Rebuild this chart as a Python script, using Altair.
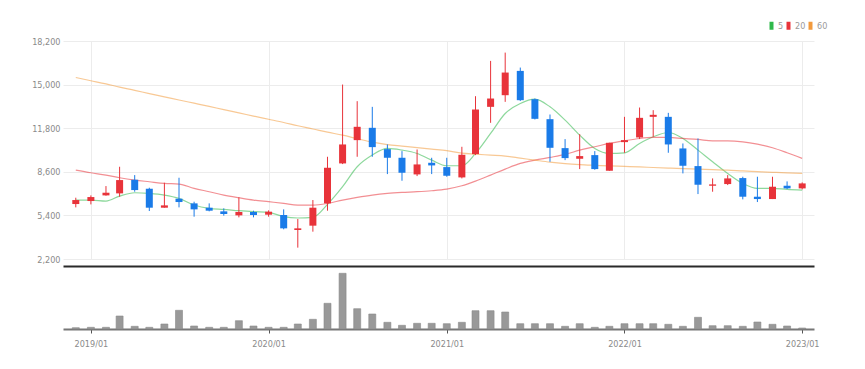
import altair as alt
import pandas as pd

# Monthly candles, 2018/12 .. 2023/01
months = pd.date_range("2018-12-01", "2023-01-01", freq="MS").strftime("%Y-%m-%d").tolist()

opens = [6234, 6454, 6869, 7016, 8017, 7357, 5965, 6625, 6283, 5965,
         5697, 5403, 5648, 5452, 5428, 4328, 4646, 6283, 9214, 10924,
         11828, 10265, 9630, 8408, 9263, 8945, 8188, 9899, 13367, 14222,
         16006, 13929, 12463, 10338, 9557, 9825, 8677, 10778, 11120, 12634,
         12634, 10314, 9019, 7577, 7700, 8139, 6771, 6600, 7577, 7382]
highs = [6698, 6869, 7553, 8970, 8359, 7431, 7797, 8164, 6405, 6283,
         5916, 6722, 5745, 5770, 5843, 5134, 6527, 9703, 15004, 13783,
         13367, 10607, 10118, 10240, 9630, 9630, 10436, 14149, 16739, 17349,
         16250, 13978, 12805, 10998, 11364, 10118, 10729, 12634, 13318, 13123,
         12927, 10680, 11046, 8115, 8359, 8237, 8237, 8237, 7895, 7822]
lows = [5989, 6209, 6845, 6771, 7138, 5721, 5965, 5989, 5306, 5697,
        5379, 5257, 5257, 5306, 4380, 3033, 4206, 5745, 9166, 9703,
        9703, 8432, 7944, 8286, 8432, 8237, 8115, 9825, 12195, 13734,
        13800, 12440, 9336, 9458, 8799, 8750, 8677, 9996, 11000, 11169,
        9996, 8481, 6966, 7138, 7626, 6576, 6381, 6600, 7333, 7309]
closes = [6527, 6747, 7064, 7993, 7260, 5965, 6136, 6381, 5843, 5745,
          5501, 5648, 5428, 5672, 4450, 4450, 5965, 8896, 10607, 11902,
          10411, 9630, 8530, 9141, 9068, 8310, 9850, 13172, 13978, 15884,
          13856, 12488, 10362, 9605, 9752, 8799, 10729, 10924, 12561, 12781,
          10607, 9043, 7651, 7675, 8115, 6771, 6600, 7504, 7382, 7748]
volumes = [1300, 1700, 1700, 13000, 2700, 1700, 5000, 18700, 3000, 1700,
           1700, 8300, 3000, 1700, 1700, 5000, 9700, 25700, 55700, 20300,
           15000, 6700, 3700, 5700, 5700, 5300, 6700, 18300, 18300, 17000,
           5300, 5300, 5300, 2700, 5300, 1700, 2700, 5300, 5300, 5300,
           4700, 2700, 11700, 3300, 3300, 2700, 7000, 4700, 3000, 1000]

ma5 = [6527, 6527, 6454, 6820, 7064, 7016, 6894, 6649, 6161, 5916,
       5843, 5745, 5672, 5623, 5306, 5208, 5257, 6209, 7504, 8970,
       9825, 10314, 10191, 9947, 9458, 9043, 9043, 9947, 11413, 12878,
       13611, 13929, 13367, 12390, 11291, 10314, 9947, 9996, 10680, 11169,
       11486, 11046, 10191, 9336, 8481, 7748, 7382, 7382, 7309, 7260]
ma20 = [8726, 8530, 8359, 8164, 7993, 7871, 7749, 7700, 7382, 7138,
        6894, 6698, 6527, 6405, 6283, 6161, 6161, 6283, 6527, 6722,
        6894, 7016, 7089, 7138, 7211, 7333, 7577, 7919, 8359, 8799,
        9214, 9458, 9654, 9874, 10191, 10436, 10680, 10876, 11046, 11120,
        11120, 11046, 10973, 10876, 10876, 10802, 10631, 10362, 9996, 9581]
ma60 = [15519, 15284, 15050, 14815, 14580, 14338, 14103, 13869, 13635, 13400,
        13158, 12924, 12689, 12455, 12220, 11978, 11744, 11509, 11289, 11033,
        10776, 10593, 10483, 10373, 10263, 10153, 9970, 9896, 9823, 9750,
        9603, 9457, 9310, 9200, 9127, 9076, 9032, 8995, 8958, 8914,
        8870, 8833, 8797, 8760, 8724, 8665, 8614, 8562, 8518, 8482]

ma_names = ["5", "20", "60"]
ma_colors = ["#2fb84a", "#e8333a", "#f29a3c"]
price_ticks = [2200, 5400, 8600, 11800, 15000, 18200]

RED = "#e8333a"
BLUE = "#1a7be8"
FONT = "DejaVu Sans Condensed, Roboto, sans-serif"

candles = pd.DataFrame({"date": months, "open": opens, "high": highs,
                        "low": lows, "close": closes, "volume": volumes})
ma_df = pd.concat([
    pd.DataFrame({"date": months, "series": name, "value": vals})
    for name, vals in zip(ma_names, [ma5, ma20, ma60])
])

year_ticks = [alt.DateTime(year=y, month=1, date=1, utc=True) for y in range(2019, 2024)]
xscale = alt.Scale(type="utc",
                   domain=[alt.DateTime(year=2018, month=11, date=15, utc=True),
                           alt.DateTime(year=2023, month=1, date=15, utc=True)])

W = 751
candle_color = alt.condition("datum.close >= datum.open", alt.value(RED), alt.value(BLUE))

x_price = alt.X("date:T", scale=xscale,
                axis=alt.Axis(values=year_ticks, labels=False, ticks=False, grid=True,
                              gridColor="#ececec", domainColor="#2a2a2a", domainWidth=2,
                              offset=7, title=None))
y_scale = alt.Scale(domain=[2200, 18200], nice=False, zero=False)

wicks = alt.Chart(candles).mark_rule(strokeWidth=1).encode(
    x=x_price,
    y=alt.Y("low:Q", scale=y_scale,
            axis=alt.Axis(values=price_ticks, format=",.0f", grid=True, gridColor="#ececec",
                          domain=False, ticks=False, labelPadding=3, labelFontSize=9,
                          labelColor="#8a8a8a", labelFont=FONT, title=None,
                          minExtent=30, maxExtent=30)),
    y2="high:Q",
    color=candle_color,
)
bodies = alt.Chart(candles).mark_bar(size=7).encode(
    x=alt.X("date:T"),
    y=alt.Y("open:Q"),
    y2="close:Q",
    color=candle_color,
)
lines = alt.Chart(ma_df).mark_line(strokeWidth=1.2, opacity=0.55, interpolate="monotone").encode(
    x=alt.X("date:T"),
    y=alt.Y("value:Q"),
    color=alt.Color("series:N", sort=ma_names,
                    scale=alt.Scale(domain=ma_names, range=ma_colors),
                    legend=alt.Legend(orient="none", legendX=704, legendY=-20,
                                      direction="horizontal", title=None,
                                      symbolType="M0,-2L0,2", symbolStrokeWidth=4,
                                      symbolSize=16, symbolOpacity=1,
                                      labelFontSize=9, labelColor="#9a9a9a", labelFont=FONT,
                                      labelOffset=2, columnPadding=-14)),
)
price = alt.layer(lines, wicks, bodies).properties(width=W, height=218)

volume = alt.Chart(candles).mark_bar(size=7, color="#999999", stroke="#8a8a8a",
                                     strokeWidth=0.6).encode(
    x=alt.X("date:T", scale=xscale,
            axis=alt.Axis(values=year_ticks, format="%Y/%m", grid=False,
                          domainColor="#777777", domainWidth=2, tickColor="#555555",
                          tickSize=4, labelFontSize=9, labelColor="#8a8a8a",
                          labelFont=FONT, labelPadding=6, title=None)),
    y=alt.Y("volume:Q", scale=alt.Scale(domain=[0, 63000], nice=False), axis=None),
).properties(width=W, height=63)

chart = alt.vconcat(price, volume, spacing=0).properties(
    padding={"left": 23, "top": 13, "right": 5, "bottom": 5}
).configure_view(stroke=None)

chart.save("out.html", embed_options={"renderer": "svg", "actions": False})
